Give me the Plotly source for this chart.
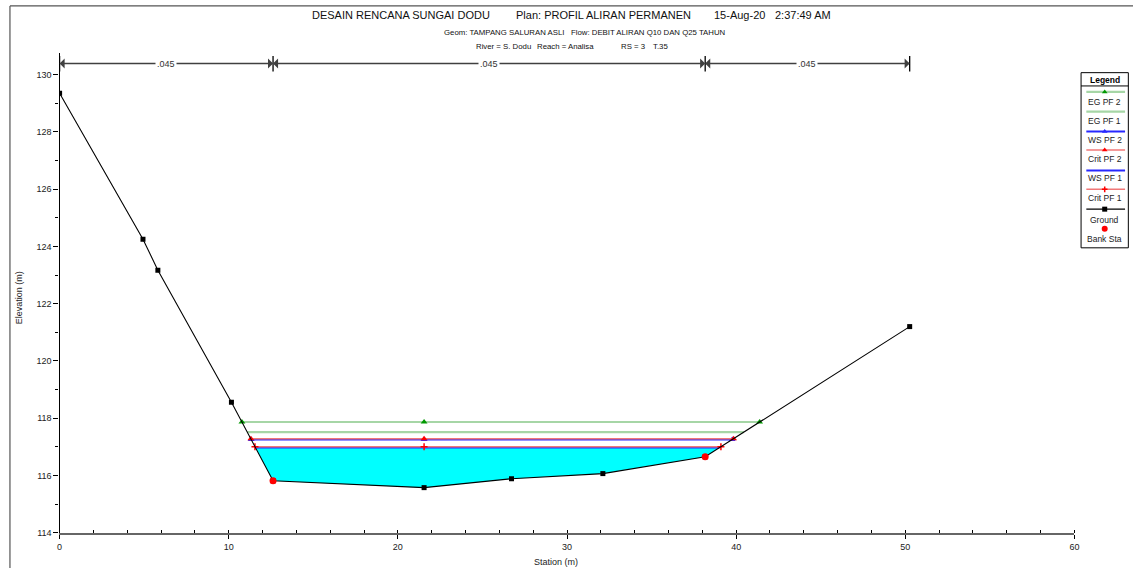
import plotly.graph_objects as go

W, H = 1138, 573

# ---------------- data ----------------
ground_x = [0.0, 4.93, 5.81, 10.16, 12.62, 21.55, 26.72, 32.12, 38.17, 50.26]
ground_y = [129.34, 124.25, 123.17, 118.56, 115.82, 115.58, 115.89, 116.07, 116.66, 121.20]
bank_x = [12.62, 38.17]
bank_y = [115.82, 116.66]

profile_names = ["EG PF 2", "EG PF 1", "WS PF 2", "Crit PF 2", "WS PF 1", "Crit PF 1"]
profile_elev = [117.87, 117.52, 117.26, 117.29, 116.98, 117.01]
profile_left = [10.78, 11.09, 11.33, 11.31, 11.58, 11.55]
profile_right = [41.39, 40.46, 39.77, 39.85, 39.02, 39.10]
profile_mid = 21.55

n_values = [".045", ".045", ".045"]
n_breaks = [0.0, 12.62, 38.17, 50.26]

x_ticks = [0, 10, 20, 30, 40, 50, 60]
y_ticks = [114, 116, 118, 120, 122, 124, 126, 128, 130]

title_parts = ["DESAIN RENCANA SUNGAI DODU", "Plan: PROFIL ALIRAN PERMANEN", "15-Aug-20", "2:37:49 AM"]
sub1_text = "Geom: TAMPANG SALURAN ASLI&nbsp;&nbsp;&nbsp;Flow: DEBIT ALIRAN Q10 DAN Q25 TAHUN"
sub2_parts = ["River = S. Dodu", "Reach = Analisa", "RS = 3", "T.35"]

# ---------------- styles ----------------
FONT = "Liberation Sans, Arial"
GREEN_L = "#a6d6a6"
GREEN = "#009900"
BLUE = "#2828ff"
PINK = "#f07878"
RED = "#ff0000"
styles = {
    "EG PF 2": dict(lc=GREEN_L, lw=2.2, mk="triangle-up", mc=GREEN, ms=6),
    "EG PF 1": dict(lc=GREEN_L, lw=2.2, mk=None, mc=None, ms=0),
    "WS PF 2": dict(lc=BLUE, lw=2.0, mk="triangle-up", mc=BLUE, ms=6),
    "Crit PF 2": dict(lc=PINK, lw=1.5, mk="triangle-up", mc=RED, ms=6),
    "WS PF 1": dict(lc=BLUE, lw=2.0, mk=None, mc=None, ms=0),
    "Crit PF 1": dict(lc=PINK, lw=1.5, mk="cross-thin", mc=RED, ms=5),
}

fig = go.Figure()

# water fill for WS PF 1
wi = profile_names.index("WS PF 1")
wl, wr, we = profile_left[wi], profile_right[wi], profile_elev[wi]
fx = [wl] + [x for x in ground_x if wl < x < wr] + [wr, wl]
fy = [we] + [y for x, y in zip(ground_x, ground_y) if wl < x < wr] + [we, we]
fig.add_trace(go.Scatter(x=fx, y=fy, mode="lines", fill="toself",
                         fillcolor="#00ffff", line=dict(width=0, color="#00ffff"),
                         hoverinfo="skip", showlegend=False))

for name, e, l, r in zip(profile_names, profile_elev, profile_left, profile_right):
    s = styles[name]
    fig.add_trace(go.Scatter(x=[l, r], y=[e, e], mode="lines",
                             line=dict(color=s["lc"], width=s["lw"]),
                             showlegend=False, hoverinfo="skip"))
    if s["mk"]:
        mk = dict(symbol=s["mk"], color=s["mc"], size=s["ms"])
        if s["mk"] == "cross-thin":
            mk["line"] = dict(color=s["mc"], width=1.5)
        fig.add_trace(go.Scatter(x=[l, profile_mid, r], y=[e, e, e], mode="markers",
                                 marker=mk, showlegend=False, hoverinfo="skip"))

fig.add_trace(go.Scatter(x=ground_x, y=ground_y, mode="lines+markers",
                         line=dict(color="black", width=1.1),
                         marker=dict(symbol="square", size=5, color="black"),
                         showlegend=False))
fig.add_trace(go.Scatter(x=bank_x, y=bank_y, mode="markers",
                         marker=dict(symbol="circle", size=7, color=RED),
                         showlegend=False))

# ---------------- Manning's n bar ----------------
bar_y = 130.38
shapes = []
annotations = []
BAR_C = "#404040"
for xb in n_breaks:
    shapes.append(dict(type="line", xref="x", yref="y", x0=xb, x1=xb, y0=130.1, y1=130.64,
                       line=dict(color="black", width=1.3)))
for i, lab in enumerate(n_values):
    a, b = n_breaks[i], n_breaks[i + 1]
    m = (a + b) / 2
    for end in (a, b):
        annotations.append(dict(x=end, y=bar_y, ax=m, ay=bar_y, xref="x", yref="y",
                                axref="x", ayref="y", text="", showarrow=True,
                                arrowhead=1, arrowsize=1.2, arrowwidth=1.4,
                                arrowcolor=BAR_C, standoff=0, startstandoff=0))
    annotations.append(dict(x=m, y=bar_y, xref="x", yref="y", text=lab, showarrow=False,
                            bgcolor="white", borderpad=1,
                            font=dict(family=FONT, size=9, color="#333")))

# ---------------- titles ----------------
def txt(s, px, py, size, color="#111", anchor="left", angle=0):
    return dict(x=px / W, y=1 - py / H, xref="paper", yref="paper", xanchor=anchor,
                yanchor="middle", showarrow=False, text=s, textangle=angle,
                font=dict(family=FONT, size=size, color=color))

for s, px in zip(title_parts, [309, 515, 714, 775]):
    annotations.append(txt(s, px, 15, 11))
annotations.append(txt(sub1_text, 586, 33, 7.8, anchor="center"))
for s, px in zip(sub2_parts, [474, 536, 620, 653]):
    annotations.append(txt(s, px, 46.5, 7.8))
annotations.append(txt("Elevation (m)", 17, 300, 9, "#222", "center", -90))
annotations.append(txt("Station (m)", 557, 567, 9, "#222", "center"))

# page frame
shapes.append(dict(type="line", xref="paper", yref="paper", x0=7 / W, x1=1, y0=1 - 6 / H, y1=1 - 6 / H,
                   line=dict(color="#555", width=1.2)))
shapes.append(dict(type="line", xref="paper", yref="paper", x0=7 / W, x1=7 / W, y0=0, y1=1 - 6 / H,
                   line=dict(color="#555", width=1.2)))

# ---------------- custom legend (pixel overlay axis) ----------------
LX0, LX1, LY0, LY1 = 1085.7, 1133.3, 73.3, 250.0
LC = (LX0 + LX1) / 2
shapes.append(dict(type="rect", xref="x2", yref="y2", x0=LX0, x1=LX1, y0=LY0, y1=LY1,
                   line=dict(color="black", width=1), fillcolor="white", layer="below"))
shapes.append(dict(type="line", xref="x2", yref="y2", x0=LX0, x1=LX1, y0=86.7, y1=86.7,
                   line=dict(color="black", width=1)))
annotations.append(dict(x=LC, y=80.3, xref="x2", yref="y2", text="<b>Legend</b>",
                        showarrow=False, font=dict(family=FONT, size=8.5, color="black")))
leg_line_y = [92.7, 112.7, 132.7, 151.3, 172.0, 191.0]
leg_text_y = [103.3, 122.3, 141.7, 160.7, 180.0, 200.0]
for name, ly, ty in zip(profile_names, leg_line_y, leg_text_y):
    s = styles[name]
    fig.add_trace(go.Scatter(x=[1091, 1130], y=[ly, ly], xaxis="x2", yaxis="y2", mode="lines",
                             line=dict(color=s["lc"], width=s["lw"]), showlegend=False,
                             hoverinfo="skip"))
    if s["mk"]:
        mk = dict(symbol=s["mk"], color=s["mc"], size=s["ms"] - 1)
        if s["mk"] == "cross-thin":
            mk["line"] = dict(color=s["mc"], width=1.5)
        fig.add_trace(go.Scatter(x=[LC], y=[ly], xaxis="x2", yaxis="y2", mode="markers",
                                 marker=mk, showlegend=False, hoverinfo="skip"))
    annotations.append(dict(x=LC, y=ty, xref="x2", yref="y2", text=name, showarrow=False,
                            font=dict(family=FONT, size=8.5, color="#222")))
fig.add_trace(go.Scatter(x=[1091, 1130], y=[211, 211], xaxis="x2", yaxis="y2", mode="lines",
                         line=dict(color="black", width=1.1), showlegend=False, hoverinfo="skip"))
fig.add_trace(go.Scatter(x=[LC], y=[211], xaxis="x2", yaxis="y2", mode="markers",
                         marker=dict(symbol="square", size=5, color="black"), showlegend=False,
                         hoverinfo="skip"))
annotations.append(dict(x=LC, y=221.7, xref="x2", yref="y2", text="Ground", showarrow=False,
                        font=dict(family=FONT, size=8.5, color="#222")))
fig.add_trace(go.Scatter(x=[LC], y=[230.7], xaxis="x2", yaxis="y2", mode="markers",
                         marker=dict(symbol="circle", size=6, color=RED), showlegend=False,
                         hoverinfo="skip"))
annotations.append(dict(x=LC, y=241.0, xref="x2", yref="y2", text="Bank Sta", showarrow=False,
                        font=dict(family=FONT, size=8.5, color="#222")))

fig.update_layout(
    width=W, height=H,
    margin=dict(l=0, r=0, t=0, b=0),
    paper_bgcolor="white", plot_bgcolor="rgba(0,0,0,0)",
    showlegend=False,
    shapes=shapes, annotations=annotations,
    xaxis=dict(domain=[57 / W, 1079 / W], range=[0, 60], tickvals=x_ticks,
               ticks="outside", ticklen=4, tickcolor="black", showgrid=False, zeroline=False,
               showline=True, linecolor="#666", linewidth=2,
               minor=dict(dtick=2, ticks="inside", ticklen=3, tickcolor="black", showgrid=False),
               tickfont=dict(family=FONT, size=9, color="#222"), anchor="y"),
    yaxis=dict(domain=[(H - 537.6) / H, (H - 53.4) / H], range=[114, 130.75], tickvals=y_ticks,
               ticks="outside", ticklen=5, tickcolor="black", showgrid=False, zeroline=False,
               showline=True, linecolor="black", linewidth=1.3,
               minor=dict(dtick=1, ticks="outside", ticklen=3, tickcolor="black", showgrid=False),
               tickfont=dict(family=FONT, size=9, color="#222"), anchor="x"),
    xaxis2=dict(domain=[0, 1], range=[0, W], visible=False, anchor="y2"),
    yaxis2=dict(domain=[0, 1], range=[H, 0], visible=False, anchor="x2"),
)

fig.write_html("out.html")
